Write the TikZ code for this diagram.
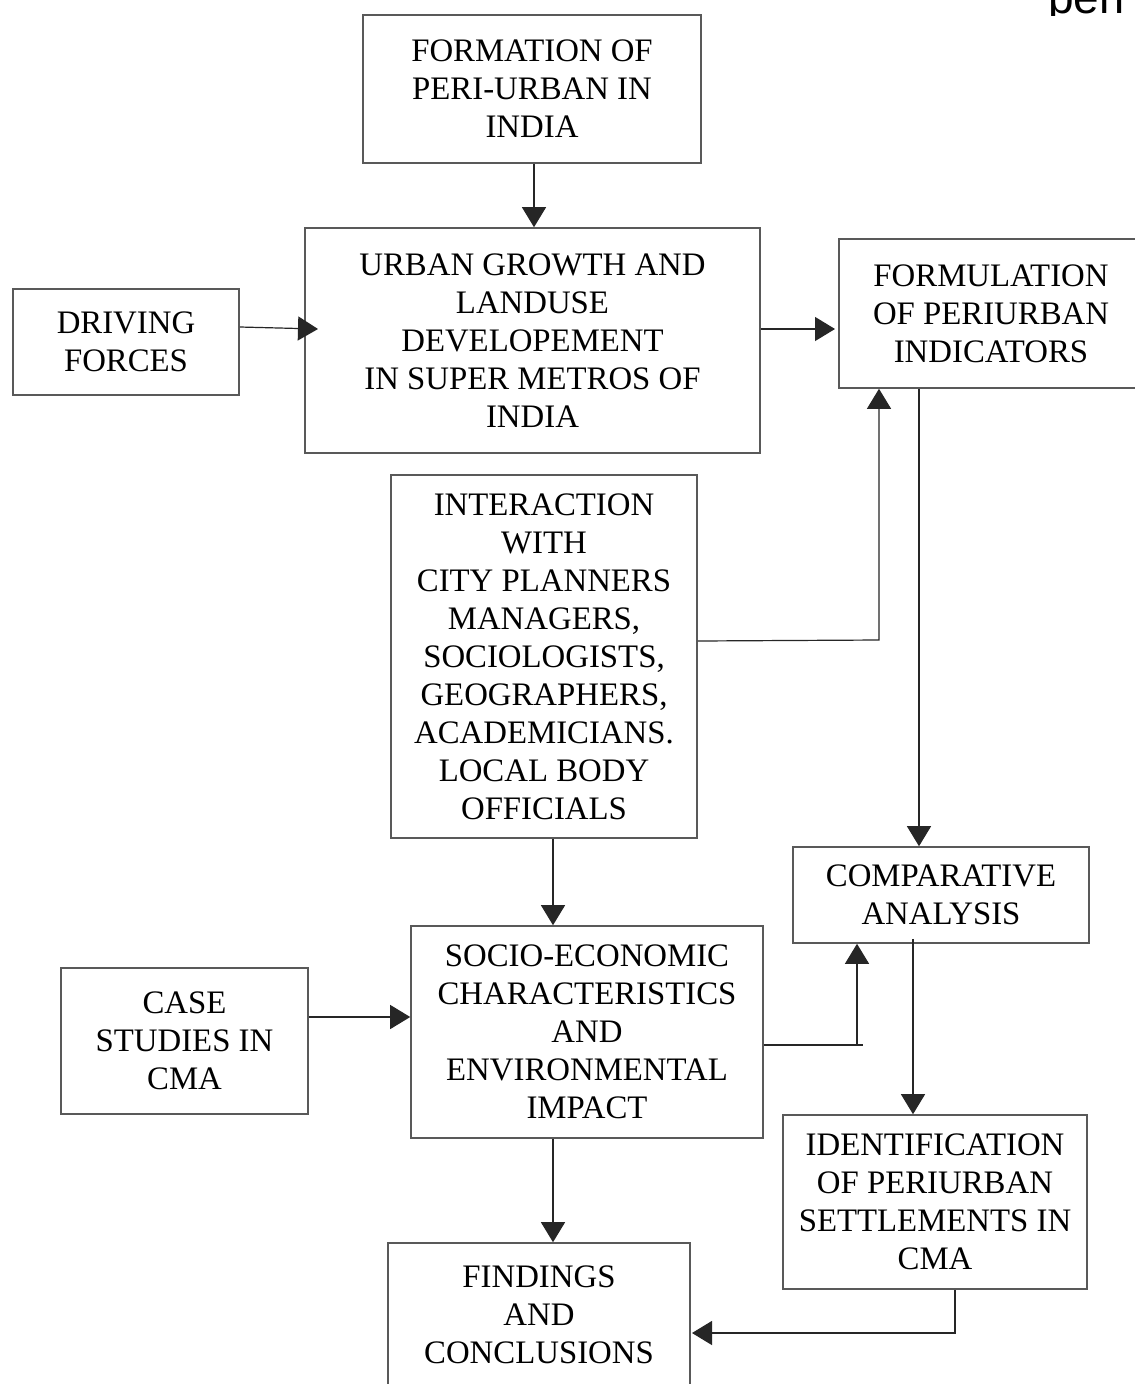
\documentclass[tikz,border=0pt]{standalone}
\usepackage{fontspec}
\setmainfont{Liberation Serif}
\newfontfamily\logofont{Liberation Sans}
\usetikzlibrary{arrows.meta,calc}
\begin{document}
\begin{tikzpicture}[x=1pt,y=-1pt,
  box/.style={draw=black!65,line width=1.6pt,inner sep=0pt,align=center,
    font=\fontsize{32.8}{38}\selectfont},
  conn/.style={draw=black!85,line width=1.2pt},
  arr/.style={conn,-{Triangle[length=20pt,width=24pt]}}]
\useasboundingbox (0,0) rectangle (1135,1384);
\clip (0,0) rectangle (1135,1384);
\fill[white] (0,0) rectangle (1135,1384);
% logo fragment
\begin{scope}
\clip (1000,0) rectangle (1135,15);
\node[anchor=base west,inner sep=0pt,font=\logofont\fontsize{46}{46}\selectfont] (logo) at (1048,13) {peri};
\end{scope}
% boxes
\node[box,minimum width=338pt,minimum height=148pt] (f1) at (532,89) {FORMATION OF\\PERI-URBAN IN\\INDIA};
\node[box,minimum width=455pt,minimum height=225pt] (ug) at (532.5,340.5) {URBAN GROWTH AND\\LANDUSE\\DEVELOPEMENT\\IN SUPER METROS OF\\INDIA};
\node[box,minimum width=226pt,minimum height=106pt] (df) at (126,342) {DRIVING\\FORCES};
\node[box,minimum width=304pt,minimum height=149pt] (fi) at (991,313.5) {FORMULATION\\OF PERIURBAN\\INDICATORS};
\node[box,minimum width=306pt,minimum height=363pt] (ia) at (544,656.5) {INTERACTION\\WITH\\CITY PLANNERS\\MANAGERS,\\SOCIOLOGISTS,\\GEOGRAPHERS,\\ACADEMICIANS.\\LOCAL BODY\\OFFICIALS};
\node[box,minimum width=296pt,minimum height=96pt] (ca) at (941,895) {COMPARATIVE\\ANALYSIS};
\node[box,minimum width=352pt,minimum height=212pt] (se) at (587,1032) {SOCIO-ECONOMIC\\CHARACTERISTICS\\AND\\ENVIRONMENTAL\\IMPACT};
\node[box,minimum width=247pt,minimum height=146pt] (cs) at (184.5,1041) {CASE\\STUDIES IN\\CMA};
\node[box,minimum width=304pt,minimum height=174pt] (id) at (935,1202) {IDENTIFICATION\\OF PERIURBAN\\SETTLEMENTS IN\\CMA};
\node[box,minimum width=302pt,minimum height=143pt] (fc) at (539,1314.5) {FINDINGS\\AND\\CONCLUSIONS};
% helper coordinates
\coordinate (k1) at (534,0);
\coordinate (k2s) at (0,327);
\coordinate (k2t) at (318,329);
\coordinate (k3) at (0,329);
\coordinate (k3t) at (835,329);
\coordinate (k4s) at (0,641);
\coordinate (k4) at (879,640);
\coordinate (k5) at (919,0);
\coordinate (k6) at (553,0);
\coordinate (k7) at (0,1017);
\coordinate (k8s) at (0,1045);
\coordinate (k8e) at (863,1045);
\coordinate (k8a) at (857,1045);
\coordinate (k9) at (913,0);
\coordinate (k10) at (955,1333);
\coordinate (k10t) at (692,1333);
% connectors
\draw[arr] (f1.south -| k1) -- (ug.north -| k1);
\draw[arr] (df.east |- k2s) -- (k2t);
\draw[arr] (ug.east |- k3) -- (k3t);
\draw[arr] (ia.east |- k4s) -- (k4) -- (fi.south -| k4);
\draw[arr] (fi.south -| k5) -- (ca.north -| k5);
\draw[arr] (ia.south -| k6) -- (se.north -| k6);
\draw[arr] (cs.east |- k7) -- (se.west |- k7);
\draw[conn] (se.east |- k8s) -- (k8e);
\draw[arr] (k8a) -- (ca.south -| k8a);
\draw[arr] ($(ca.south -| k9)+(0,-5)$) -- (id.north -| k9);
\draw[arr] (id.south -| k10) -- (k10) -- (k10t);
\draw[arr] (se.south -| k6) -- (fc.north -| k6);
\end{tikzpicture}
\end{document}
